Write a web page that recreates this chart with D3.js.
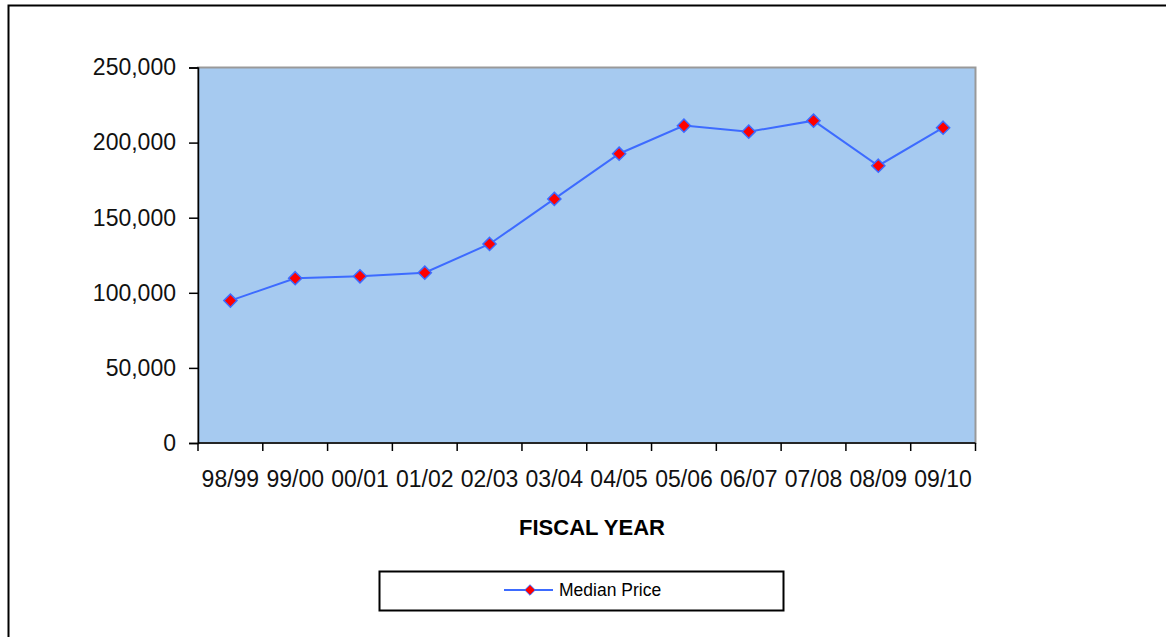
<!DOCTYPE html>
<html>
<head>
<meta charset="utf-8">
<script src="https://cdn.jsdelivr.net/npm/d3@7"></script>
<style>
  html, body { margin: 0; padding: 0; background: #fff; }
  svg { display: block; font-family: Arial, "Liberation Sans", sans-serif; }
</style>
</head>
<body>
<svg id="chart" width="1166" height="637"></svg>
<script>
// Fiscal years and median sale price for each year
const years = ["98/99", "99/00", "00/01", "01/02", "02/03", "03/04",
               "04/05", "05/06", "06/07", "07/08", "08/09", "09/10"];
const medianPrice = [94800, 109700, 111000, 113400, 132500, 162500,
                     192600, 211300, 207300, 214600, 184600, 209900];
const yTicks = [0, 50000, 100000, 150000, 200000, 250000];
const seriesName = "Median Price";
const xTitle = "FISCAL YEAR";

const svg = d3.select("#chart");
const plot = { left: 198, top: 67.5, right: 975.5, bottom: 443 };

// Outer chart frame (runs off the right and bottom edges)
svg.append("rect")
  .attr("x", 8.5).attr("y", 5.5)
  .attr("width", 1200).attr("height", 700)
  .attr("fill", "none").attr("stroke", "#000").attr("stroke-width", 2);

const x = d3.scaleBand().domain(years).range([plot.left, plot.right]);
const y = d3.scaleLinear().domain([0, 250000]).range([plot.bottom, plot.top]);

// Plot area background
svg.append("rect")
  .attr("x", plot.left).attr("y", plot.top)
  .attr("width", plot.right - plot.left).attr("height", plot.bottom - plot.top)
  .attr("fill", "#A6CAF0")
  .attr("stroke", "#999").attr("stroke-width", 2);

// Y axis
const yAxis = svg.append("g")
  .attr("transform", `translate(${plot.left},0)`)
  .call(d3.axisLeft(y).tickValues(yTicks).tickFormat(d3.format(",")).tickSize(9).tickPadding(13));
yAxis.select(".domain").attr("stroke", "#000").attr("stroke-width", 1.5);
yAxis.selectAll(".tick line").attr("stroke", "#000").attr("stroke-width", 1.5);
yAxis.selectAll(".tick text").attr("font-size", 23).attr("fill", "#111")
  .attr("font-family", "Arial, 'Liberation Sans', sans-serif");

// X axis: tick marks sit on category boundaries, labels centred in each band
const boundaries = years.map(d => x(d)).concat([plot.right]);
const xAxisG = svg.append("g");
xAxisG.append("line")
  .attr("x1", plot.left).attr("x2", plot.right)
  .attr("y1", plot.bottom).attr("y2", plot.bottom)
  .attr("stroke", "#000").attr("stroke-width", 1.5);
xAxisG.selectAll("line.tk").data(boundaries).join("line")
  .attr("class", "tk")
  .attr("x1", d => d).attr("x2", d => d)
  .attr("y1", plot.bottom).attr("y2", plot.bottom + 8)
  .attr("stroke", "#000").attr("stroke-width", 1.5);
xAxisG.selectAll("text").data(years).join("text")
  .attr("x", d => x(d) + x.bandwidth() / 2)
  .attr("y", 486.5)
  .attr("text-anchor", "middle")
  .attr("font-size", 23)
  .attr("fill", "#111")
  .text(d => d);

// Axis title
svg.append("text")
  .attr("x", 592).attr("y", 534.5)
  .attr("text-anchor", "middle")
  .attr("font-size", 22).attr("font-weight", "bold")
  .attr("fill", "#000")
  .text(xTitle);

// Series line
const pts = years.map((d, i) => ({ year: d, value: medianPrice[i] }));
svg.append("path")
  .datum(pts)
  .attr("fill", "none")
  .attr("stroke", "#3D6BFF")
  .attr("stroke-width", 2)
  .attr("d", d3.line().x(d => x(d.year) + x.bandwidth() / 2).y(d => y(d.value)));

// Diamond markers
const diamond = d3.symbol().type(d3.symbolDiamond2).size(110);
svg.selectAll("path.mk").data(pts).join("path")
  .attr("class", "mk")
  .attr("transform", d => `translate(${x(d.year) + x.bandwidth() / 2},${y(d.value)})`)
  .attr("d", diamond)
  .attr("fill", "#FF0000")
  .attr("stroke", "#3D6BFF")
  .attr("stroke-width", 1.5);

// Legend
const lg = svg.append("g");
lg.append("rect")
  .attr("x", 379.5).attr("y", 571.5).attr("width", 404).attr("height", 39)
  .attr("fill", "#fff").attr("stroke", "#000").attr("stroke-width", 2);
lg.append("line")
  .attr("x1", 504).attr("x2", 553).attr("y1", 590).attr("y2", 590)
  .attr("stroke", "#3D6BFF").attr("stroke-width", 2);
lg.append("path")
  .attr("transform", "translate(530,590)")
  .attr("d", d3.symbol().type(d3.symbolDiamond2).size(70))
  .attr("fill", "#FF0000").attr("stroke", "#3D6BFF").attr("stroke-width", 1);
lg.append("text")
  .attr("x", 559).attr("y", 596)
  .attr("font-size", 17.5).attr("fill", "#000")
  .text(seriesName);
</script>
</body>
</html>
